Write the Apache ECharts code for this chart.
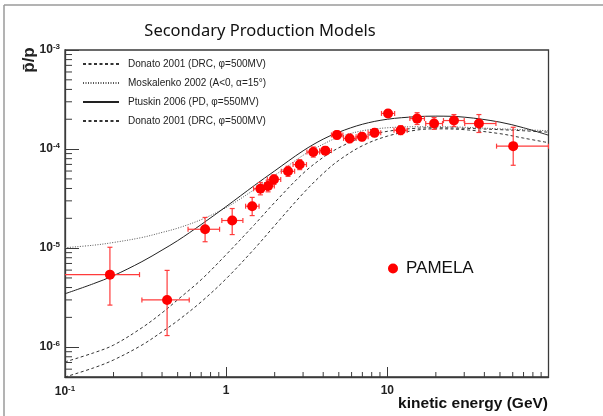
<!DOCTYPE html>
<html><head><meta charset="utf-8">
<script src="https://cdn.jsdelivr.net/npm/echarts@6/dist/echarts.min.js"></script>
<style>html,body{margin:0;padding:0;background:#fff}#c{width:603px;height:416px}</style>
</head><body><div id="c"></div>
<script>
// PAMELA antiproton / proton ratio
const energy     = [0.19, 0.43, 0.74, 1.09, 1.45, 1.63, 1.82, 1.98, 2.42, 2.86, 3.47, 4.12, 4.87, 5.84, 6.96, 8.33, 10.1, 12.1, 15.3, 19.5, 25.9, 37.0, 60.4];
const energyLow  = [0.09, 0.30, 0.58, 0.94, 1.32, 1.48, 1.66, 1.80, 2.20, 2.60, 3.17, 3.80, 4.50, 5.35, 6.40, 7.60, 9.20, 11.0, 13.8, 17.3, 22.3, 30.2, 47.6];
const energyHigh = [0.29, 0.59, 0.91, 1.27, 1.60, 1.78, 1.99, 2.18, 2.66, 3.15, 3.80, 4.50, 5.30, 6.40, 7.60, 9.10, 11.1, 13.3, 17.0, 22.0, 30.0, 47.2, 100];
const ratio      = [5.4e-6, 3.0e-6, 1.55e-5, 1.90e-5, 2.65e-5, 3.98e-5, 4.23e-5, 4.94e-5, 5.96e-5, 6.97e-5, 9.34e-5, 9.64e-5, 1.39e-4, 1.28e-4, 1.33e-4, 1.46e-4, 2.29e-4, 1.55e-4, 2.03e-4, 1.81e-4, 1.94e-4, 1.81e-4, 1.07e-4];
const ratioLow   = [2.66e-6, 1.31e-6, 1.16e-5, 1.37e-5, 2.13e-5, 3.45e-5, 3.70e-5, 4.40e-5, 5.30e-5, 6.20e-5, 8.30e-5, 8.80e-5, 1.26e-4, 1.16e-4, 1.21e-4, 1.33e-4, 2.10e-4, 1.40e-4, 1.77e-4, 1.58e-4, 1.69e-4, 1.47e-4, 6.86e-5];
const ratioHigh  = [1.02e-5, 5.96e-6, 2.04e-5, 2.51e-5, 3.25e-5, 4.60e-5, 4.85e-5, 5.50e-5, 6.70e-5, 7.80e-5, 1.05e-4, 1.06e-4, 1.53e-4, 1.41e-4, 1.46e-4, 1.60e-4, 2.50e-4, 1.72e-4, 2.33e-4, 2.08e-4, 2.23e-4, 2.23e-4, 1.66e-4];

// Secondary production model curves
const modelEnergy = [0.1, 0.15, 0.2, 0.3, 0.4, 0.5, 0.7, 1, 1.5, 2, 3, 4, 5, 7, 10, 15, 20, 30, 50, 70, 100];
const ptuskin     = [3.46e-6, 4.37e-6, 5.27e-6, 7.30e-6, 9.55e-6, 1.19e-5, 1.73e-5, 2.63e-5, 4.30e-5, 6.02e-5, 9.60e-5, 1.26e-4, 1.48e-4, 1.78e-4, 2.00e-4, 2.12e-4, 2.15e-4, 2.10e-4, 1.87e-4, 1.64e-4, 1.38e-4];
const moskalenko  = [1.01e-5, 1.07e-5, 1.14e-5, 1.28e-5, 1.44e-5, 1.59e-5, 1.94e-5, 2.57e-5, 3.91e-5, 5.42e-5, 8.64e-5, 1.12e-4, 1.32e-4, 1.53e-4, 1.64e-4, 1.68e-4, 1.68e-4, 1.66e-4, 1.60e-4, 1.57e-4, 1.53e-4];
const donatoUpper = [7.10e-7, 8.75e-7, 1.05e-6, 1.57e-6, 2.22e-6, 3.01e-6, 4.80e-6, 8.60e-6, 1.73e-5, 2.89e-5, 5.68e-5, 8.25e-5, 1.03e-4, 1.32e-4, 1.51e-4, 1.62e-4, 1.64e-4, 1.62e-4, 1.57e-4, 1.53e-4, 1.48e-4];
const donatoLower = [5.00e-7, 6.17e-7, 7.43e-7, 1.05e-6, 1.43e-6, 1.85e-6, 2.87e-6, 4.91e-6, 9.89e-6, 1.69e-5, 3.56e-5, 5.68e-5, 7.69e-5, 1.08e-4, 1.35e-4, 1.55e-4, 1.60e-4, 1.57e-4, 1.43e-4, 1.29e-4, 1.16e-4];

const seriesNames = ['Donato 2001 (DRC, \u03C6=500MV)', 'Moskalenko 2002 (A<0, \u03B1=15\u00B0)', 'Ptuskin 2006 (PD, \u03C6=550MV)', 'Donato 2001 (DRC, \u03C6=500MV)\u200B'];
const dataName = 'PAMELA';

// axis ticks
const xMin = 0.1, xMax = 100, yMin = 5e-7, yMax = 1e-3;
const xMinorTicks = [0.2,0.3,0.4,0.5,0.6,0.7,0.8,0.9, 2,3,4,5,6,7,8,9, 20,30,40,50,60,70,80,90];
const yMinorTicks = [6e-7,7e-7,8e-7,9e-7, 2e-6,3e-6,4e-6,5e-6,6e-6,7e-6,8e-6,9e-6, 2e-5,3e-5,4e-5,5e-5,6e-5,7e-5,8e-5,9e-5, 2e-4,3e-4,4e-4,5e-4,6e-4,7e-4,8e-4,9e-4];
const xTickExp = [-1, 0, 1];
const xTickText = ['10{s|-1}', '1', '10'];
const yTickExp = [-6, -5, -4, -3];
const yTickText = ['10{s|-6}', '10{s|-5}', '10{s|-4}', '10{s|-3}'];

const axisColor = '#3a3a3a';
const font = '"Liberation Sans", Arial, sans-serif';

function fmt(exps, texts) {
  return function (v) {
    const l = Math.log10(v);
    const r = Math.round(l);
    if (Math.abs(l - r) > 1e-6) return '';
    const i = exps.indexOf(r);
    return i < 0 ? '' : texts[i];
  };
}
const labelRich = { s: { fontSize: 8, fontWeight: 'bold', fontFamily: font, color: '#222', verticalAlign: 'top', padding: [0, 0, 6, 0] } };

const chart = echarts.init(document.getElementById('c'), null, { renderer: 'canvas' });

function lineSeries(name, data, type, color) {
  return {
    name: name, type: 'line', smooth: 0.35, symbol: 'none', clip: true,
    data: modelEnergy.map((e, i) => [e, data[i]]),
    lineStyle: { color: color, width: 1, type: type },
    itemStyle: { color: color },
    z: 3
  };
}

const option = {
  animation: false,
  backgroundColor: '#fff',
  grid: { left: 65, right: 54.5, top: 50, bottom: 39, show: true, borderColor: axisColor, borderWidth: 1.3, backgroundColor: 'transparent', containLabel: false, outerBoundsMode: 'none' },
  xAxis: {
    type: 'log', logBase: 10, min: xMin, max: xMax,
    axisLine: { show: true, onZero: false, lineStyle: { color: axisColor, width: 1.3 } },
    axisTick: { show: true, inside: true, length: 10, lineStyle: { color: axisColor, width: 1 } },
    splitLine: { show: false },
    minorTick: { show: false },
    axisLabel: { show: true, margin: 8, interval: 0, hideOverlap: false, formatter: fmt(xTickExp, xTickText), fontSize: 12, fontWeight: 'bold', fontFamily: font, color: '#222', rich: labelRich }
  },
  yAxis: {
    type: 'log', logBase: 10, min: yMin, max: yMax,
    axisLine: { show: true, onZero: false, lineStyle: { color: axisColor, width: 1.3 } },
    axisTick: { show: true, inside: true, length: 14, lineStyle: { color: axisColor, width: 1 } },
    splitLine: { show: false },
    minorTick: { show: false },
    axisLabel: { show: true, margin: 5, interval: 0, hideOverlap: false, formatter: fmt(yTickExp, yTickText), fontSize: 12, fontWeight: 'bold', fontFamily: font, color: '#222', rich: labelRich }
  },
  legend: [
    {
      data: seriesNames, orient: 'vertical', left: 82, top: 59, padding: 0, itemWidth: 36, itemHeight: 10, itemGap: 9,
      itemStyle: { opacity: 0, borderWidth: 0 },
      textStyle: { fontSize: 10, fontFamily: font, color: '#222', padding: [0, 0, 0, 4] },
      selectedMode: false
    },
    {
      data: [dataName], left: 388, top: 260, padding: 0, itemWidth: 10, itemHeight: 10, icon: 'circle',
      textStyle: { fontSize: 17, fontFamily: font, color: '#111', padding: [0, 0, 0, 3] },
      selectedMode: false
    }
  ],
  graphic: [
    { type: 'line', shape: { x1: 4, y1: 5, x2: 603, y2: 5 }, style: { stroke: '#9a9a9a', lineWidth: 1.5 }, silent: true },
    { type: 'line', shape: { x1: 4, y1: 5, x2: 4, y2: 416 }, style: { stroke: '#9a9a9a', lineWidth: 1.5 }, silent: true },
    { type: 'text', x: 260, y: 31, style: { text: 'Secondary Production Models', font: '16.5px "Noto Sans", sans-serif', fill: '#111', textAlign: 'center', textVerticalAlign: 'middle' }, silent: true },
    { type: 'text', x: 29, y: 60, rotation: Math.PI / 2, style: { text: 'p\u0304/p', font: 'bold 17px ' + font, fill: '#222', textAlign: 'center', textVerticalAlign: 'middle' }, silent: true },
    { type: 'text', x: 548, y: 404, style: { text: 'kinetic energy (GeV)', font: 'bold 15.5px ' + font, fill: '#111', textAlign: 'right', textVerticalAlign: 'middle' }, silent: true }
  ],
  series: [
    lineSeries(seriesNames[0], donatoUpper, [3, 2.5], '#333'),
    lineSeries(seriesNames[1], moskalenko, [1, 1.5], '#555'),
    lineSeries(seriesNames[2], ptuskin, 'solid', '#222'),
    lineSeries(seriesNames[3], donatoLower, [3, 2.5], '#333'),
    {
      type: 'custom', name: 'xminor', silent: true, clip: false, z: 5,
      data: xMinorTicks.map(v => [v, yMin]), encode: { x: 0, y: 1 },
      renderItem: function (params, api) {
        const p = api.coord([api.value(0), yMin]);
        return { type: 'line', shape: { x1: p[0], y1: p[1], x2: p[0], y2: p[1] - 5 }, style: { stroke: axisColor, lineWidth: 1 } };
      }
    },
    {
      type: 'custom', name: 'yminor', silent: true, clip: false, z: 5,
      data: yMinorTicks.map(v => [xMin, v]), encode: { x: 0, y: 1 },
      renderItem: function (params, api) {
        const p = api.coord([xMin, api.value(1)]);
        return { type: 'line', shape: { x1: p[0], y1: p[1], x2: p[0] + 7, y2: p[1] }, style: { stroke: axisColor, lineWidth: 1 } };
      }
    },
    {
      type: 'custom', name: 'errors', silent: true, clip: true, z: 6,
      dimensions: ['e', 'r', 'el', 'eh', 'rl', 'rh'],
      encode: { x: 0, y: 1 },
      data: energy.map((e, i) => [e, ratio[i], energyLow[i], energyHigh[i], ratioLow[i], ratioHigh[i]]),
      renderItem: function (params, api) {
        const e = api.value(0), r = api.value(1);
        const a = api.coord([api.value(2), r]), b = api.coord([api.value(3), r]);
        const d = api.coord([e, api.value(4)]), u = api.coord([e, api.value(5)]);
        const c = 2.5;
        const st = { stroke: '#ff3b3b', lineWidth: 1.2 };
        return {
          type: 'group', children: [
            { type: 'line', shape: { x1: a[0], y1: a[1], x2: b[0], y2: b[1] }, style: st },
            { type: 'line', shape: { x1: d[0], y1: d[1], x2: u[0], y2: u[1] }, style: st },
            { type: 'line', shape: { x1: a[0], y1: a[1] - c, x2: a[0], y2: a[1] + c }, style: st },
            { type: 'line', shape: { x1: b[0], y1: b[1] - c, x2: b[0], y2: b[1] + c }, style: st },
            { type: 'line', shape: { x1: d[0] - c, y1: d[1], x2: d[0] + c, y2: d[1] }, style: st },
            { type: 'line', shape: { x1: u[0] - c, y1: u[1], x2: u[0] + c, y2: u[1] }, style: st }
          ]
        };
      }
    },
    {
      name: dataName, type: 'scatter', symbol: 'circle', symbolSize: 10, z: 7,
      data: energy.map((e, i) => [e, ratio[i]]),
      itemStyle: { color: '#ff0000', opacity: 1 }
    }
  ]
};
chart.setOption(option);
</script>
</body></html>
